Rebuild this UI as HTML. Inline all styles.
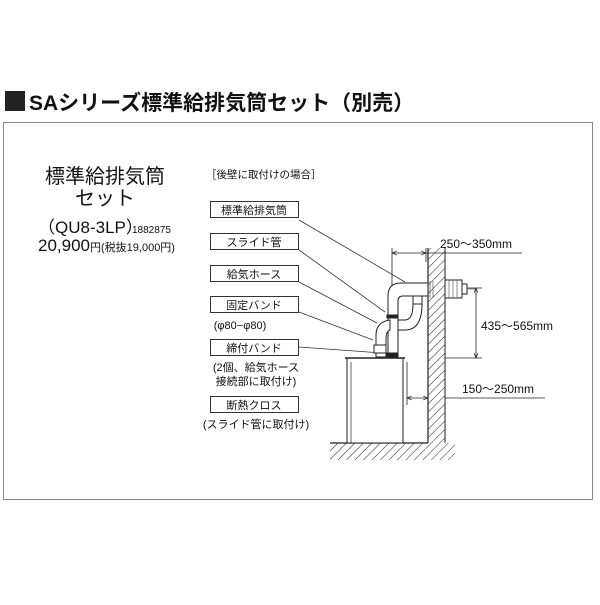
<!DOCTYPE html>
<html><head><meta charset="utf-8"><style>
body{margin:0;width:600px;height:600px;background:#fff;overflow:hidden}
svg text{font-family:"Liberation Sans","Noto Sans CJK JP",sans-serif;fill:#111}
</style></head><body>
<svg width="600" height="600" viewBox="0 0 600 600" xmlns="http://www.w3.org/2000/svg">
<defs>
<pattern id="h" width="6" height="6" patternUnits="userSpaceOnUse" patternTransform="rotate(45)">
<line x1="0" y1="0" x2="0" y2="6" stroke="#222" stroke-width="1"/>
</pattern>
<marker id="a" viewBox="0 0 10 10" refX="10" refY="5" markerWidth="6" markerHeight="6" orient="auto-start-reverse"><path d="M0,1 L10,5 L0,9" fill="none" stroke="#222" stroke-width="1.5"/></marker>
</defs>
<rect x="5" y="91" width="20" height="20" fill="#222"/>
<text x="29" y="110" font-size="21" font-weight="bold">SAシリーズ標準給排気筒セット（別売）</text>
<rect x="3.5" y="122.5" width="589" height="377" fill="none" stroke="#888" stroke-width="1"/>

<text x="105" y="183" font-size="20" text-anchor="middle">標準給排気筒</text>
<text x="105" y="205" font-size="20" text-anchor="middle">セット</text>
<text x="38" y="233" font-size="17">（QU8-3LP）</text>
<text x="132" y="233" font-size="10">1882875</text>
<text x="38" y="251" font-size="17">20,900<tspan font-size="11">円(税抜19,000円)</tspan></text>

<text x="206" y="178" font-size="10.5">［後壁に取付けの場合］</text>
<g font-size="11" text-anchor="middle" fill="none" stroke="#333" stroke-width="1">
<rect x="210.5" y="201.5" width="88" height="16"/>
<rect x="210.5" y="233.5" width="88" height="16"/>
<rect x="210.5" y="265.5" width="88" height="16"/>
<rect x="210.5" y="296.5" width="88" height="16"/>
<rect x="210.5" y="339.5" width="88" height="16"/>
<rect x="210.5" y="396.5" width="88" height="16"/>
</g>
<g font-size="11" text-anchor="middle">
<text x="254" y="214">標準給排気筒</text>
<text x="254" y="246">スライド管</text>
<text x="254" y="278">給気ホース</text>
<text x="254" y="309">固定バンド</text>
<text x="240" y="329">(φ80−φ80)</text>
<text x="254" y="352">締付バンド</text>
<text x="256" y="371">(2個、給気ホース</text>
<text x="256" y="385">接続部に取付け)</text>
<text x="254" y="409">断熱クロス</text>
<text x="256" y="428">(スライド管に取付け)</text>
</g>
<g stroke="#333" stroke-width="0.8" fill="none">
<line x1="299" y1="220" x2="405" y2="282"/>
<line x1="299" y1="250" x2="385" y2="312"/>
<line x1="299" y1="282" x2="377" y2="323"/>
<line x1="299" y1="312" x2="373" y2="340"/>
<line x1="299" y1="347" x2="382" y2="353"/>
</g>
<!-- wall -->
<rect x="428" y="248" width="17" height="195" fill="url(#h)" stroke="none"/>
<line x1="428" y1="248" x2="428" y2="443" stroke="#222" stroke-width="1.2"/>
<line x1="445" y1="248" x2="445" y2="443" stroke="#222" stroke-width="1"/>
<!-- floor -->
<rect x="330" y="443" width="125" height="17" fill="url(#h)"/>
<line x1="330" y1="443" x2="428" y2="443" stroke="#222" stroke-width="1.2"/>
<!-- heater -->
<rect x="347" y="358" width="56" height="85" fill="#fff" stroke="#222" stroke-width="1"/>
<line x1="351" y1="362" x2="351" y2="443" stroke="#222" stroke-width="0.7"/>
<line x1="345" y1="358" x2="405" y2="358" stroke="#222" stroke-width="1.5"/>
<!-- pipes -->
<g stroke="#222" stroke-width="1" fill="#fff">
<path d="M388,357 L388,296 Q388,283 401,283 L428,283 L428,296 L403,296 Q398,296 398,301 L398,357 Z"/>
<rect x="413" y="296" width="9" height="8"/>
<path d="M413,304 L422,304 Q422,330 405,330 L398,330 L398,320 L405,320 Q413,320 413,304 Z"/>
<path d="M376,357 L376,335 Q376,322 390,320 L390,330 Q386,331 386,340 L386,357 Z"/>
<rect x="374" y="345" width="12" height="8"/>
<rect x="387" y="315" width="11" height="3" fill="#222"/>
<rect x="387" y="353" width="11" height="4" fill="#222"/>
<rect x="445" y="280" width="17" height="18"/>
<rect x="462" y="284" width="5" height="10"/>
</g>
<g stroke="#444" stroke-width="0.6">
<line x1="449" y1="280" x2="449" y2="298"/><line x1="453" y1="280" x2="453" y2="298"/><line x1="457" y1="280" x2="457" y2="298"/>
<line x1="430" y1="281" x2="430" y2="298"/><line x1="433" y1="281" x2="433" y2="298"/>
<line x1="467" y1="289" x2="476" y2="289"/>
</g>
<!-- dimensions -->
<g stroke="#222" stroke-width="0.8" fill="none">
<line x1="392" y1="248" x2="392" y2="285"/>
<line x1="426" y1="248" x2="426" y2="262"/>
<line x1="392" y1="253" x2="426" y2="253" marker-start="url(#a)" marker-end="url(#a)"/>
<line x1="426" y1="253" x2="522" y2="253"/>
<line x1="467" y1="288" x2="482" y2="288"/>
<line x1="445" y1="358" x2="482" y2="358"/>
<line x1="476" y1="288" x2="476" y2="358" marker-start="url(#a)" marker-end="url(#a)"/>
<line x1="407" y1="362" x2="407" y2="405"/>
<line x1="407" y1="398" x2="428" y2="398" marker-start="url(#a)" marker-end="url(#a)"/>
<line x1="445" y1="398" x2="545" y2="398"/>
</g>
<g font-size="12">
<text x="440" y="248">250〜350mm</text>
<text x="481" y="330">435〜565mm</text>
<text x="462" y="393">150〜250mm</text>
</g>
</svg>
</body></html>
